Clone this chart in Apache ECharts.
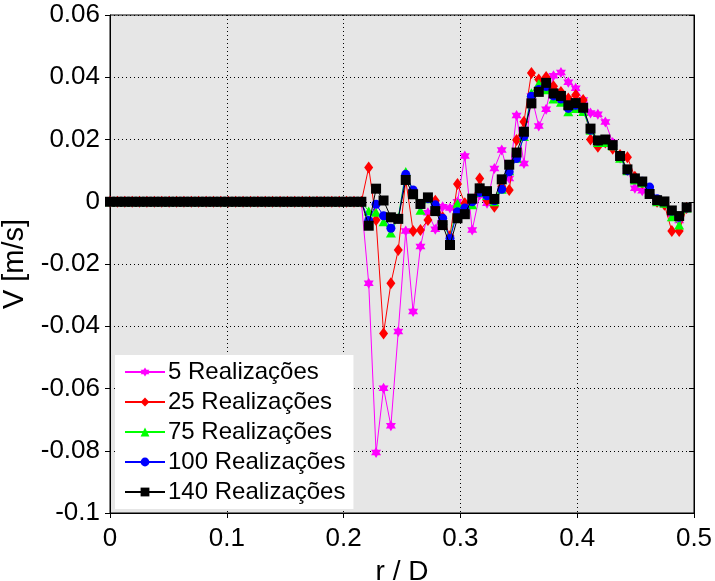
<!DOCTYPE html>
<html>
<head>
<meta charset="utf-8">
<script src="https://cdn.jsdelivr.net/npm/echarts@6/dist/echarts.min.js"></script>
<style>
html,body{margin:0;padding:0;background:#fff;}
#chart{width:715px;height:581px;}
</style>
</head>
<body>
<div id="chart"></div>
<script>
// r/D positions
const rD = [0,0.0063,0.0127,0.0190,0.0253,0.0316,0.0380,0.0443,0.0506,0.0570,
0.0633,0.0696,0.0759,0.0823,0.0886,0.0949,0.1013,0.1076,0.1139,0.1203,
0.1266,0.1329,0.1392,0.1456,0.1519,0.1582,0.1646,0.1709,0.1772,0.1835,
0.1899,0.1962,0.2025,0.2089,0.2152,0.2215,0.2278,0.2342,0.2405,0.2468,
0.2532,0.2595,0.2658,0.2722,0.2785,0.2848,0.2911,0.2975,0.3038,0.3101,
0.3165,0.3228,0.3291,0.3354,0.3418,0.3481,0.3544,0.3608,0.3671,0.3734,
0.3797,0.3861,0.3924,0.3987,0.4051,0.4114,0.4177,0.4241,0.4304,0.4367,
0.4430,0.4494,0.4557,0.4620,0.4684,0.4747,0.4810,0.4873,0.4937];

const v5 = [0,0,0,0,0,0,0,0,0,0,0,0,0,0,0,0,0,0,0,0,0,0,0,0,0,0,0,0,0,0,0,0,0,0,0,
-0.0262,-0.0806,-0.0599,-0.0720,-0.0417,-0.0094,-0.0353,-0.0144,-0.0035,-0.0088,
-0.0016,-0.0020,0.0000,0.0147,-0.0091,0.0022,-0.0005,0.0107,0.0166,0.0075,
0.0277,0.0123,0.0340,0.0243,0.0297,0.0405,0.0415,0.0384,0.0365,0.0327,
0.0285,0.0281,0.0256,0.0190,0.0140,0.0100,0.0043,0.0035,0.0030,0.0000,
-0.0010,-0.0040,-0.0060,-0.0020];

const v25 = [0,0,0,0,0,0,0,0,0,0,0,0,0,0,0,0,0,0,0,0,0,0,0,0,0,0,0,0,0,0,0,0,0,0,0,
0.0110,-0.0059,-0.0423,-0.0262,-0.0155,0.0070,-0.0094,-0.0091,-0.0059,0.0003,
-0.0050,-0.0110,0.0057,-0.0005,0.0000,0.0075,0.0005,-0.0016,0.0050,0.0038,
0.0198,0.0257,0.0414,0.0393,0.0401,0.0371,0.0353,0.0332,0.0343,0.0327,
0.0200,0.0177,0.0190,0.0170,0.0150,0.0143,0.0080,0.0060,0.0030,0.0000,
-0.0010,-0.0094,-0.0094,-0.0020];

const v75 = [0,0,0,0,0,0,0,0,0,0,0,0,0,0,0,0,0,0,0,0,0,0,0,0,0,0,0,0,0,0,0,0,0,0,0,
-0.0030,-0.0034,-0.0064,-0.0100,-0.0050,0.0097,0.0030,-0.0027,0.0010,-0.0020,
-0.0060,-0.0120,-0.0005,-0.0020,-0.0010,0.0030,0.0020,0.0000,0.0040,0.0100,
0.0140,0.0210,0.0350,0.0380,0.0360,0.0330,0.0320,0.0289,0.0300,0.0290,
0.0230,0.0190,0.0190,0.0180,0.0140,0.0100,0.0070,0.0060,0.0030,0.0000,
-0.0005,-0.0048,-0.0075,-0.0020];

const v100 = [0,0,0,0,0,0,0,0,0,0,0,0,0,0,0,0,0,0,0,0,0,0,0,0,0,0,0,0,0,0,0,0,0,0,0,
-0.0060,-0.0008,-0.0045,-0.0085,-0.0055,0.0088,0.0038,-0.0010,0.0010,-0.0010,
-0.0053,-0.0118,-0.0032,-0.0020,0.0000,0.0030,0.0019,0.0003,0.0040,0.0096,
0.0139,0.0210,0.0339,0.0361,0.0370,0.0340,0.0330,0.0300,0.0310,0.0300,
0.0230,0.0195,0.0200,0.0180,0.0147,0.0100,0.0075,0.0066,0.0047,0.0010,
0.0000,-0.0030,-0.0050,-0.0020];

const v140 = [0,0,0,0,0,0,0,0,0,0,0,0,0,0,0,0,0,0,0,0,0,0,0,0,0,0,0,0,0,0,0,0,0,0,0,
-0.0077,0.0042,0.0004,-0.0050,-0.0055,0.0070,0.0024,-0.0007,0.0014,-0.0030,
-0.0075,-0.0139,-0.0053,-0.0040,0.0010,0.0043,0.0034,0.0009,0.0072,0.0119,
0.0158,0.0225,0.0316,0.0353,0.0382,0.0348,0.0340,0.0310,0.0317,0.0302,
0.0235,0.0197,0.0200,0.0182,0.0147,0.0104,0.0075,0.0065,0.0025,0.0005,
0.0001,-0.0028,-0.0046,-0.0018];

const seriesNames = ['5 Realizações','25 Realizações','75 Realizações','100 Realizações','140 Realizações'];
const xTicks = {min:0, max:0.5, interval:0.1};
const yTicks = {min:-0.1, max:0.06, interval:0.02};

const hexagram = 'path://M100,0L128.87,50L186.6,50L157.7,100L186.6,150L128.87,150L100,200L71.13,150L13.4,150L42.3,100L13.4,50L71.13,50Z';

function pairs(ys){ return rD.map((x,i)=>[x, ys[i]]); }
function fmt(v){ return String(parseFloat(v.toFixed(3))); }

const chart = echarts.init(document.getElementById('chart'), null, {renderer:'canvas'});
const font = 'Liberation Sans, Arial, sans-serif';

const defs = [
  {data:v5, color:'#ff00ff', symbol:hexagram, size:[10,11]},
  {data:v25, color:'#ff0000', symbol:'diamond', size:[9,12]},
  {data:v75, color:'#00ff00', symbol:'triangle', size:[10,9]},
  {data:v100, color:'#0000ff', symbol:'circle', size:9},
  {data:v140, color:'#000000', symbol:'rect', size:10}
];

chart.setOption({
  animation:false,
  backgroundColor:'#ffffff',
  textStyle:{fontFamily:font},
  grid:{left:110, right:21, top:15, bottom:68, show:true, backgroundColor:'#e6e6e6', borderColor:'#000', borderWidth:1, containLabel:false, outerBoundsMode:'none'},
  legend:{
    orient:'vertical', left:115, top:355,
    backgroundColor:'#ffffff', borderWidth:0,
    padding:[5,8,5,9],
    itemWidth:40, itemHeight:11, itemGap:6,
    textStyle:{fontSize:24, color:'#000', fontFamily:font, padding:[0,0,0,-2]},
    data:seriesNames
  },
  xAxis:{
    type:'value', min:xTicks.min, max:xTicks.max, interval:xTicks.interval,
    name:'r / D', nameLocation:'middle', nameGap:45,
    nameTextStyle:{fontSize:28, color:'#000', fontFamily:font},
    axisLine:{show:true, onZero:false, lineStyle:{color:'#000', width:1}},
    axisTick:{show:true, inside:false, length:5, lineStyle:{color:'#000'}},
    axisLabel:{fontSize:26, color:'#000', margin:13, formatter:fmt, fontFamily:font},
    splitLine:{show:true, lineStyle:{color:'#000', type:[1,3], width:1}}
  },
  yAxis:[{
    type:'value', min:yTicks.min, max:yTicks.max, interval:yTicks.interval,
    name:'V [m/s]', nameLocation:'middle', nameGap:78,
    nameTextStyle:{fontSize:29, color:'#000', fontFamily:font},
    axisLine:{show:true, onZero:false, lineStyle:{color:'#000', width:1}},
    axisTick:{show:true, inside:false, length:5, lineStyle:{color:'#000'}},
    axisLabel:{fontSize:26, color:'#000', margin:10, formatter:fmt, fontFamily:font},
    splitLine:{show:true, lineStyle:{color:'#000', type:[1,3], width:1}}
  },{
    type:'value', position:'right', min:yTicks.min, max:yTicks.max, interval:yTicks.interval,
    axisLine:{show:true, onZero:false, lineStyle:{color:'#000', width:1}},
    axisTick:{show:true, inside:true, length:5, lineStyle:{color:'#000'}},
    axisLabel:{show:false}, splitLine:{show:false}
  }],
  series: defs.map((d,k)=>({
    name:seriesNames[k], type:'line', data:pairs(d.data),
    symbol:d.symbol, symbolSize:d.size, showSymbol:true,
    lineStyle:{color:d.color, width:1},
    itemStyle:{color:d.color, borderWidth:0},
    z:2+k, clip:false
  }))
});
</script>
</body>
</html>
